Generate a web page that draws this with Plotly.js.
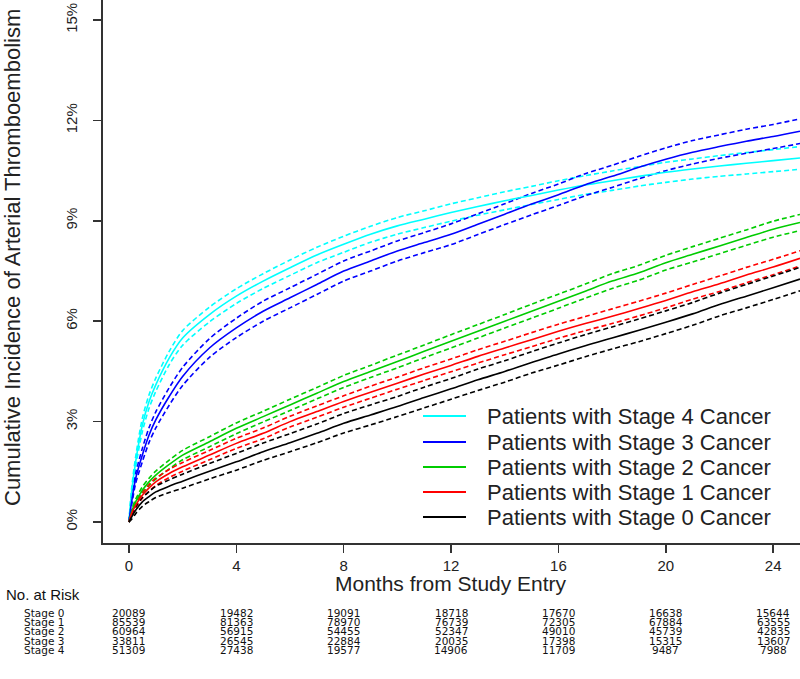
<!DOCTYPE html>
<html><head><meta charset="utf-8">
<script src="https://cdn.plot.ly/plotly-3.0.1.min.js"></script>
<style>html,body{margin:0;padding:0;background:#fff}#chart{width:800px;height:679px}</style>
</head><body><div id="chart"></div><script>
// ---- data (months from study entry, cumulative incidence in %) ----
const months = [0,0.1,0.25,0.5,0.75,1,1.5,2,3,4,5,6,7,8,9,10,11,12,13,14,15,16,17,18,19,20,21,22,23,24,25];

const stage4Est = [0,0.9,1.8,2.9,3.6,4.1,4.9,5.5,6.2,6.75,7.2,7.6,7.98,8.3,8.6,8.85,9.05,9.25,9.43,9.6,9.76,9.92,10.07,10.2,10.33,10.45,10.55,10.64,10.72,10.8,10.88];
const stage4Hi  = [0,1.0,1.95,3.1,3.8,4.3,5.1,5.72,6.42,6.97,7.42,7.83,8.21,8.54,8.84,9.1,9.3,9.51,9.69,9.87,10.03,10.2,10.35,10.49,10.62,10.75,10.85,10.95,11.04,11.13,11.22];
const stage4Lo  = [0,0.8,1.65,2.7,3.4,3.9,4.7,5.28,5.98,6.53,6.98,7.37,7.75,8.06,8.36,8.6,8.8,8.99,9.17,9.33,9.49,9.64,9.79,9.91,10.04,10.15,10.25,10.33,10.4,10.47,10.54];

const stage3Est = [0,0.6,1.3,2.0,2.6,3.05,3.75,4.35,5.2,5.8,6.3,6.7,7.1,7.5,7.8,8.1,8.35,8.6,8.9,9.2,9.5,9.78,10.08,10.33,10.6,10.84,11.05,11.22,11.38,11.52,11.68];
const stage3Hi  = [0,0.7,1.45,2.2,2.82,3.29,4.01,4.62,5.48,6.09,6.6,7.0,7.4,7.8,8.1,8.4,8.65,8.91,9.21,9.51,9.82,10.1,10.41,10.66,10.93,11.18,11.4,11.57,11.74,11.88,12.05];
const stage3Lo  = [0,0.5,1.15,1.8,2.38,2.81,3.49,4.08,4.92,5.51,6.0,6.4,6.8,7.2,7.5,7.8,8.05,8.29,8.59,8.89,9.18,9.46,9.75,10.0,10.26,10.5,10.7,10.87,11.02,11.16,11.31];

const stage2Est = [0,0.3,0.6,0.95,1.2,1.4,1.72,2.0,2.4,2.8,3.15,3.5,3.85,4.2,4.5,4.8,5.1,5.4,5.7,6.0,6.3,6.6,6.9,7.2,7.45,7.75,8.0,8.25,8.5,8.75,8.95];
const stage2Hi  = [0,0.35,0.68,1.05,1.31,1.52,1.85,2.14,2.55,2.96,3.31,3.67,4.02,4.38,4.68,4.99,5.29,5.6,5.9,6.2,6.51,6.81,7.11,7.42,7.67,7.97,8.23,8.48,8.73,8.99,9.19];
const stage2Lo  = [0,0.25,0.52,0.85,1.09,1.28,1.59,1.86,2.25,2.64,2.99,3.33,3.68,4.02,4.32,4.61,4.91,5.2,5.5,5.8,6.09,6.39,6.69,6.98,7.23,7.53,7.77,8.02,8.27,8.51,8.71];

const stage1Est = [0,0.25,0.5,0.8,1.02,1.2,1.45,1.65,2.0,2.35,2.65,3.0,3.3,3.6,3.88,4.15,4.42,4.68,4.95,5.2,5.45,5.7,5.93,6.15,6.38,6.62,6.88,7.12,7.38,7.62,7.88];
const stage1Hi  = [0,0.3,0.57,0.89,1.12,1.31,1.57,1.78,2.14,2.5,2.81,3.16,3.47,3.77,4.06,4.33,4.61,4.87,5.15,5.4,5.66,5.91,6.14,6.37,6.6,6.84,7.1,7.35,7.61,7.85,8.11];
const stage1Lo  = [0,0.2,0.43,0.71,0.92,1.09,1.33,1.52,1.86,2.2,2.49,2.84,3.13,3.43,3.7,3.97,4.23,4.49,4.75,5.0,5.24,5.49,5.72,5.93,6.16,6.4,6.66,6.89,7.15,7.39,7.65];

const stage0Est = [0,0.15,0.35,0.6,0.76,0.9,1.07,1.22,1.52,1.8,2.1,2.37,2.65,2.95,3.2,3.45,3.72,3.98,4.25,4.5,4.77,5.02,5.27,5.5,5.73,5.97,6.22,6.5,6.75,7.0,7.26];
const stage0Hi  = [0,0.22,0.45,0.73,0.91,1.07,1.26,1.43,1.75,2.05,2.36,2.64,2.93,3.24,3.5,3.75,4.03,4.29,4.57,4.82,5.09,5.35,5.6,5.83,6.07,6.31,6.56,6.84,7.1,7.35,7.61];
const stage0Lo  = [0,0.08,0.25,0.47,0.61,0.73,0.88,1.01,1.29,1.55,1.84,2.1,2.37,2.66,2.9,3.15,3.41,3.67,3.93,4.18,4.45,4.69,4.94,5.17,5.39,5.63,5.88,6.16,6.4,6.65,6.91];

const stageNames = ["Patients with Stage 4 Cancer","Patients with Stage 3 Cancer","Patients with Stage 2 Cancer","Patients with Stage 1 Cancer","Patients with Stage 0 Cancer"];

const xTickVals = [0,4,8,12,16,20,24];
const yTickVals = [0,3,6,9,12,15];
const yTickText = ["0%","3%","6%","9%","12%","15%"];

const riskMonths = [0,4,8,12,16,20,24];
const riskLabels = ["Stage 0","Stage 1","Stage 2","Stage 3","Stage 4"];
const riskStage0 = [20089,19482,19091,18718,17670,16638,15644];
const riskStage1 = [85539,81363,78970,76739,72305,67884,63555];
const riskStage2 = [60964,56915,54455,52347,49010,45739,42835];
const riskStage3 = [33811,26545,22884,20035,17398,15315,13607];
const riskStage4 = [51309,27438,19577,14906,11709,9487,7988];

// ---- drawing ----
const colors = ["#00FFFF","#0000FF","#00CC00","#FF0000","#000000"];
const series = [
  [stage4Est,stage4Lo,stage4Hi],
  [stage3Est,stage3Lo,stage3Hi],
  [stage2Est,stage2Lo,stage2Hi],
  [stage1Est,stage1Lo,stage1Hi],
  [stage0Est,stage0Lo,stage0Hi]
];
const traces = [];
series.forEach((s,i)=>{
  [1,2].forEach(k=>{
    traces.push({x:months,y:s[k],mode:'lines',showlegend:false,hoverinfo:'skip',
      line:{color:colors[i],width:1.6,dash:'5px,3px',shape:'spline',smoothing:0.8}});
  });
});
series.forEach((s,i)=>{
  traces.push({x:months,y:s[0],mode:'lines',name:stageNames[i],showlegend:false,
    line:{color:colors[i],width:1.6,shape:'spline',smoothing:0.8}});
});

const FONT = "Liberation Sans, Arial, sans-serif";
const TFONT = "DejaVu Sans, sans-serif";
const plotH = 543, plotW = 697, mL = 103;
const py = p => (plotH - p)/plotH;    // pixel row -> paper y
const px = p => (p - mL)/plotW;        // pixel column -> paper x

const annotations = [
  {text:"Cumulative Incidence of Arterial Thromboembolism",xref:'paper',yref:'paper',x:px(12),y:py(258),
   textangle:-90,showarrow:false,xanchor:'center',yanchor:'middle',font:{family:FONT,size:22,color:'#222'}},
  {text:"Months from Study Entry",xref:'paper',yref:'paper',x:px(451),y:py(583),
   showarrow:false,xanchor:'center',yanchor:'middle',font:{family:FONT,size:21,color:'#222'}},
  {text:"No. at Risk",xref:'paper',yref:'paper',x:px(4),y:py(594),
   showarrow:false,xanchor:'left',yanchor:'middle',font:{family:FONT,size:15,color:'#111'}}
];
const shapes = [];
// legend (drawn manually to match the reference's tight spacing)
const legY = [416,442,467,492,517];
stageNames.forEach((n,i)=>{
  shapes.push({type:'line',xref:'paper',yref:'paper',x0:px(423),x1:px(466),y0:py(legY[i]),y1:py(legY[i]),
    line:{color:colors[i],width:2}});
  annotations.push({text:n,xref:'paper',yref:'paper',x:px(485),y:py(legY[i]),showarrow:false,
    xanchor:'left',yanchor:'middle',font:{family:FONT,size:22,color:'#222'}});
});
const riskRows = [riskStage0,riskStage1,riskStage2,riskStage3,riskStage4];
const rowY = [613,622.2,631.4,640.6,649.8];
riskRows.forEach((row,r)=>{
  annotations.push({text:riskLabels[r],xref:'paper',yref:'paper',x:px(23),y:py(rowY[r]),
    showarrow:false,xanchor:'left',yanchor:'middle',borderpad:0,font:{family:TFONT,size:10.5,color:'#111'}});
  row.forEach((v,j)=>{
    annotations.push({text:String(v),xref:'x',yref:'paper',x:riskMonths[j],y:py(rowY[r]),
      showarrow:false,xanchor:'center',yanchor:'middle',borderpad:0,font:{family:TFONT,size:10.5,color:'#111'}});
  });
});

const layout = {
  width:800,height:679,
  margin:{l:mL,r:0,t:0,b:136,pad:0},
  paper_bgcolor:'#fff',plot_bgcolor:'#fff',
  showlegend:false,
  xaxis:{range:[-0.966,25.0],showgrid:false,zeroline:false,showline:true,linecolor:'#333',linewidth:2,
    ticks:'outside',ticklen:8,tickwidth:1.5,tickcolor:'#333',tickvals:xTickVals,
    tickfont:{family:FONT,size:15,color:'#222'},fixedrange:true},
  yaxis:{range:[-0.627,15.6],showgrid:false,zeroline:false,showline:true,linecolor:'#333',linewidth:2,
    ticks:'outside',ticklen:8,tickwidth:1.5,tickcolor:'#333',tickvals:yTickVals,ticktext:yTickText,
    tickangle:-90,ticklabelstandoff:10,tickfont:{family:FONT,size:15,color:'#222'},fixedrange:true},
  shapes:shapes,
  annotations:annotations
};
Plotly.newPlot('chart',traces,layout,{displayModeBar:false,staticPlot:true});
</script></body></html>
